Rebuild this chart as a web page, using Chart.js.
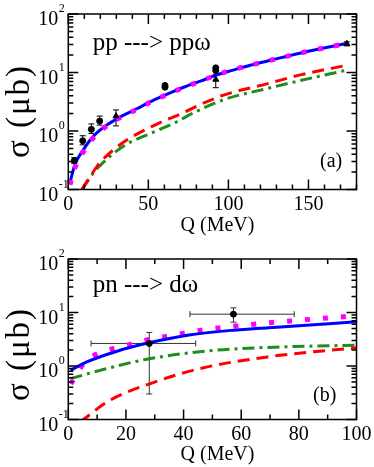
<!DOCTYPE html>
<html><head><meta charset="utf-8">
<script src="https://cdn.jsdelivr.net/npm/chart.js@4.4.0/dist/chart.umd.min.js"></script>
<style>
html,body{margin:0;padding:0;background:#fff;}
#wrap{position:relative;width:374px;height:467px;overflow:hidden;background:#fff;}
canvas{position:absolute;left:0;}
#ca{top:0;} #cb{top:236px;}
</style></head><body>
<div id="wrap"><canvas id="ca" width="374" height="236"></canvas><canvas id="cb" width="374" height="229"></canvas></div>
<script>
// ===== Panel (a): pp ---> pp omega =====
const qA_solid   = [1, 4, 9.4, 16.3, 24, 33.4, 42.7, 52.1, 62.5, 72.5, 83, 92.7, 103, 113.6, 125, 135.4, 145.9, 156, 166.7, 173.5];
const sA_solid   = [0.13, 0.26, 0.48, 0.85, 1.26, 1.8, 2.4, 3.25, 4.35, 5.65, 7.2, 9.1, 11, 13.3, 15.9, 18.6, 21.8, 25, 28.7, 31.4];
const qA_dotted  = [1, 4.2, 9.4, 16.3, 24, 33.4, 42.7, 52.1, 62.5, 72.5, 83, 92.7, 103, 113.6, 125, 135.4, 145.9, 156, 166.7, 172];
const sA_dotted  = [0.12, 0.236, 0.44, 0.80, 1.22, 1.76, 2.35, 3.2, 4.3, 5.6, 7.2, 9.1, 11.2, 13.3, 15.9, 18.6, 21.8, 25, 28.7, 30.5];
const qA_dashed  = [8.4, 15.6, 19.4, 34.4, 55, 71, 82, 97, 124, 145, 174];
const sA_dashed  = [0.1, 0.2, 0.28, 0.64, 1.3, 2.0, 2.8, 4.1, 6.4, 9.1, 13.3];
const qA_dashdot = [8.6, 15.6, 19.4, 34.4, 55, 61.5, 68, 79, 98, 124, 145, 174];
const sA_dashdot = [0.1, 0.19, 0.25, 0.55, 1.0, 1.2, 1.45, 2.1, 3.5, 5.3, 7.3, 11];
// experimental data (circles)
const qA_circ  = [3.75, 9, 14.4, 19.6, 60.4, 60.4, 92.1, 92.1];
const sA_circ  = [0.31, 0.68, 1.07, 1.48, 5.6, 6.0, 10.8, 12.0];
const loA_circ = [0.28, 0.58, 0.91, 1.26, null, null, null, null];
const hiA_circ = [0.35, 0.83, 1.32, 1.80, null, null, null, null];
// experimental data (triangles)
const qA_tri  = [29.8, 92.1, 174];
const sA_tri  = [1.8, 7.6, 31];
const loA_tri = [1.22, 5.5, 28.5];
const hiA_tri = [2.29, 9.3, 33.5];

// ===== Panel (b): pn ---> d omega =====
const qB_solid   = [0.8, 6.4, 16.9, 27.9, 41.3, 57.5, 74.9, 100];
const sB_solid   = [0.83, 1.19, 1.89, 2.71, 3.77, 4.68, 5.4, 6.7];
const qB_dotted  = [0.9, 3.8, 7.3, 13.9, 20.3, 26.1, 32, 38.3, 44.7, 55.7, 69, 80.7, 92.3, 99.5];
const sB_dotted  = [0.46, 0.86, 1.38, 1.98, 2.45, 2.96, 3.41, 3.94, 4.55, 5.4, 6.4, 7.2, 8.1, 8.6];
const qB_dashed  = [4.1, 14.5, 28.5, 45.9, 69.1, 100];
const sB_dashed  = [0.09, 0.23, 0.47, 0.90, 1.48, 2.2];
const qB_dashdot = [0.8, 11, 28.5, 51.7, 74.9, 100];
const sB_dashdot = [0.58, 0.83, 1.38, 1.98, 2.28, 2.45];
const qB_exp  = [28.1, 57.3];
const sB_exp  = [2.64, 9.3];
const yLoB    = [0.30, 6.6];
const yHiB    = [4.24, 12.2];
const xLoB    = [7.9, 42.2];
const xHiB    = [44.2, 78.4];

// ===== tick labels =====
const xTicksA   = [0, 50, 100, 150];
const xTicksB   = [0, 20, 40, 60, 80, 100];
const yTickVals = [0.1, 1, 10, 100];
const yTickBase = '10';
const yTickExp  = ['-1', '0', '1', '2'];
const titleA = 'pp ---> ppω';
const titleB = 'pn ---> dω';
const xTitle = 'Q (MeV)';
const yTitle = 'σ (μb)';

const FONT = "'Liberation Serif','Times New Roman',serif";
const pts = (qs, ss) => qs.map((q, i) => ({x: q, y: ss[i]}));

function lineDs(data, color, dash, width, order) {
  return {data, borderColor: color, backgroundColor: color, borderWidth: width, borderDash: dash,
    pointRadius: 0, fill: false, cubicInterpolationMode: 'monotone', clip: 0, borderCapStyle: 'butt', order};
}
function markDs(data, style, r, order) {
  return {data, showLine: false, pointStyle: style, pointRadius: r, pointBackgroundColor: '#000',
    pointBorderColor: '#000', pointBorderWidth: 1, borderColor: '#000', backgroundColor: '#000', order};
}

function decoPlugin(c) {
  return {
    id: 'deco',
    beforeDatasetsDraw(chart) {
      const {ctx, scales: {x, y}} = chart;
      ctx.save();
      ctx.lineWidth = 1;
      for (const e of c.errs) {
        ctx.strokeStyle = e.color;
        for (let i = 0; i < e.q.length; i++) {
          const px = x.getPixelForValue(e.q[i]);
          const py = y.getPixelForValue(e.s[i]);
          if (e.lo && e.lo[i] != null) {
            const y1 = y.getPixelForValue(e.lo[i]), y2 = y.getPixelForValue(e.hi[i]);
            ctx.beginPath();
            ctx.moveTo(px, y1); ctx.lineTo(px, y2);
            ctx.moveTo(px - 3, y1); ctx.lineTo(px + 3, y1);
            ctx.moveTo(px - 3, y2); ctx.lineTo(px + 3, y2);
            ctx.stroke();
          }
          if (e.xlo) {
            const x1 = x.getPixelForValue(e.xlo[i]), x2 = x.getPixelForValue(e.xhi[i]);
            ctx.beginPath();
            ctx.moveTo(x1, py); ctx.lineTo(x2, py);
            ctx.moveTo(x1, py - 3); ctx.lineTo(x1, py + 3);
            ctx.moveTo(x2, py - 3); ctx.lineTo(x2, py + 3);
            ctx.stroke();
          }
        }
      }
      ctx.restore();
    },
    afterDraw(chart) {
      const {ctx, chartArea: a, scales: {x, y}} = chart;
      ctx.save();
      ctx.strokeStyle = '#000';
      ctx.lineWidth = 1.5;
      ctx.beginPath();
      // x ticks (bottom and top, inward)
      const n = Math.round((x.max - x.min) / c.xMinor);
      for (let k = 0; k <= n; k++) {
        const v = x.min + k * c.xMinor;
        const px = x.getPixelForValue(v);
        const len = (Math.abs(v / c.xMajor - Math.round(v / c.xMajor)) < 1e-6) ? 10 : 5;
        ctx.moveTo(px, a.bottom); ctx.lineTo(px, a.bottom - len);
        ctx.moveTo(px, a.top); ctx.lineTo(px, a.top + len);
      }
      // y ticks (left and right, inward), log minor ticks
      for (let e = -1; e <= 2; e++) {
        for (let k = 1; k <= 9; k++) {
          const v = k * Math.pow(10, e);
          if (v > y.max * 1.0001) break;
          const py = y.getPixelForValue(v);
          const len = k === 1 ? 10 : 5;
          ctx.moveTo(a.left, py); ctx.lineTo(a.left + len, py);
          ctx.moveTo(a.right, py); ctx.lineTo(a.right - len, py);
        }
      }
      ctx.stroke();
      ctx.strokeRect(a.left, a.top, a.right - a.left, a.bottom - a.top);
      // exponents of y tick labels
      ctx.fillStyle = '#000';
      ctx.font = '12px ' + FONT;
      ctx.textAlign = 'left';
      ctx.textBaseline = 'middle';
      yTickVals.forEach((v, i) => {
        const py = y.getPixelForValue(v);
        ctx.fillText(yTickExp[i], a.left - 9.5, py - 5);
      });
      // in-plot labels
      ctx.font = '25px ' + FONT;
      ctx.textBaseline = 'alphabetic';
      ctx.fillText(c.title, c.titleX, c.titleY);
      ctx.font = '20px ' + FONT;
      ctx.fillText(c.tag, c.tagX, c.tagY);
      // x axis title
      ctx.textAlign = 'center';
      ctx.fillText(xTitle, c.xTitleX, c.xTitleY);
      // y axis title
      ctx.translate(c.yTitleX, c.yTitleY);
      ctx.rotate(-Math.PI / 2);
      ctx.font = '33px ' + FONT;
      if ('letterSpacing' in ctx) ctx.letterSpacing = '2px';
      ctx.textBaseline = 'middle';
      ctx.fillText(yTitle, 0, 0);
      ctx.restore();
    }
  };
}

function makeChart(id, c) {
  return new Chart(document.getElementById(id), {
    type: 'line',
    data: {datasets: c.datasets},
    options: {
      responsive: false, animation: false, devicePixelRatio: 1,
      layout: {padding: {top: c.padTop, right: 17.5, left: 0, bottom: 0}},
      plugins: {legend: {display: false}, tooltip: {enabled: false}},
      scales: {
        x: {
          type: 'linear', min: c.xMin, max: c.xMax,
          afterBuildTicks: s => { s.ticks = c.xTicks.map(v => ({value: v})); },
          afterFit: s => { s.height = c.xAxisH; s.paddingLeft = 0; s.paddingRight = 0; },
          grid: {display: false, drawTicks: false}, border: {display: false},
          ticks: {font: {family: FONT, size: 20}, color: '#000', padding: 3.5, maxRotation: 0, autoSkip: false,
            callback: v => String(v)}
        },
        y: {
          type: 'logarithmic', min: 0.1, max: 100,
          afterBuildTicks: s => { s.ticks = yTickVals.map(v => ({value: v})); },
          afterFit: s => { s.width = 68.3; s.paddingTop = 0; s.paddingBottom = 0; },
          grid: {display: false, drawTicks: false}, border: {display: false},
          ticks: {font: {family: FONT, size: 20}, color: '#000', padding: 10, labelOffset: 6, autoSkip: false,
            callback: () => yTickBase}
        }
      }
    },
    plugins: [decoPlugin(c)]
  });
}

const BLUE = '#0000ff', RED = '#ff0000', GREEN = '#1e8c1e', MAG = '#ff00ff';

makeChart('ca', {
  padTop: 14, xAxisH: 236 - 189.5, xMin: 0, xMax: 180, xTicks: xTicksA, xMajor: 50, xMinor: 10,
  title: titleA, titleX: 92.7, titleY: 50, tag: '(a)', tagX: 320, tagY: 167,
  xTitleX: 217.5, xTitleY: 230.5, yTitleX: 20, yTitleY: 111,
  datasets: [
    markDs(pts(qA_circ, sA_circ), 'circle', 3, 0),
    markDs(pts(qA_tri, sA_tri), 'triangle', 3.5, 0),
    lineDs(pts(qA_dotted, sA_dotted), MAG, [5, 11.5], 5, 1),
    lineDs(pts(qA_solid, sA_solid), BLUE, [], 3, 2),
    lineDs(pts(qA_dashed, sA_dashed), RED, [12, 7], 3, 3),
    lineDs(pts(qA_dashdot, sA_dashdot), GREEN, [12, 5, 3, 5], 3, 4)
  ],
  errs: [
    {color: '#000', q: qA_circ, s: sA_circ, lo: loA_circ, hi: hiA_circ},
    {color: '#000', q: qA_tri, s: sA_tri, lo: loA_tri, hi: hiA_tri}
  ]
});

makeChart('cb', {
  padTop: 23, xAxisH: 229 - 183.5, xMin: 0, xMax: 100, xTicks: xTicksB, xMajor: 20, xMinor: 10,
  title: titleB, titleX: 92.7, titleY: 55.7, tag: '(b)', tagX: 313, tagY: 165,
  xTitleX: 217.5, xTitleY: 224, yTitleX: 20, yTitleY: 118,
  datasets: [
    markDs(pts(qB_exp, sB_exp), 'circle', 3, 0),
    lineDs(pts(qB_dotted, sB_dotted), MAG, [5, 13], 5, 2),
    lineDs(pts(qB_solid, sB_solid), BLUE, [], 3, 1),
    lineDs(pts(qB_dashed, sB_dashed), RED, [12, 7], 3, 3),
    lineDs(pts(qB_dashdot, sB_dashdot), GREEN, [12, 5, 3, 5], 3, 4)
  ],
  errs: [
    {color: '#333', q: qB_exp, s: sB_exp, lo: yLoB, hi: yHiB, xlo: xLoB, xhi: xHiB}
  ]
});
</script>
</body></html>
